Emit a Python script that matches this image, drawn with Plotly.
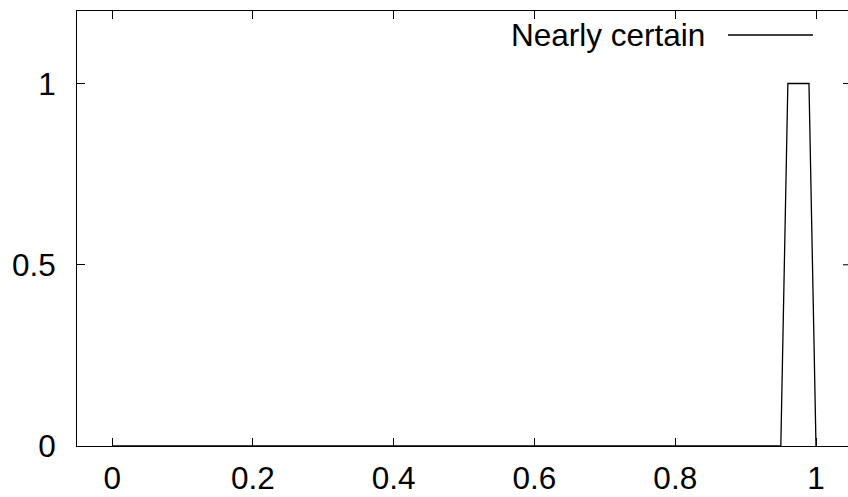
import plotly.graph_objects as go

# Data
series_name = "Nearly certain"
x_values = [0.0, 0.95, 0.96, 0.97, 0.98, 0.99, 1.0]
y_values = [0, 0, 1, 1, 1, 1, 0]
x_tickvals = [0, 0.2, 0.4, 0.6, 0.8, 1.0]
x_ticktext = ["0", "0.2", "0.4", "0.6", "0.8", "1"]
y_tickvals = [0, 0.5, 1.0]
y_ticktext = ["0", "0.5", "1"]

FONT = "Liberation Sans, Arial, sans-serif"
FS = 31.5

fig = go.Figure()
fig.add_trace(go.Scatter(
    x=x_values, y=y_values, mode="lines",
    line=dict(color="black", width=1.3),
    name=series_name, showlegend=False,
))

fig.update_layout(
    width=848, height=497,
    margin=dict(l=77, r=0, t=11, b=51),
    paper_bgcolor="white", plot_bgcolor="white",
    font=dict(family=FONT, size=FS, color="black"),
    showlegend=False,
)

fig.update_xaxes(
    range=[-0.05, 1.04545], tickvals=x_tickvals, ticktext=x_ticktext,
    showgrid=False, zeroline=False, automargin=False,
    showline=True, linecolor="black", linewidth=1, mirror="ticks",
    ticks="inside", ticklen=8, tickcolor="black", tickwidth=1,
    ticklabelstandoff=4,
)
fig.update_yaxes(
    range=[0, 1.2], tickvals=y_tickvals, ticktext=y_ticktext,
    showgrid=False, zeroline=False, automargin=False,
    showline=True, linecolor="black", linewidth=1, mirror=False,
    ticks="inside", ticklen=8, tickcolor="black", tickwidth=1,
    ticklabelstandoff=14,
)

# Mirrored y ticks at the (off-canvas) right border, only their stubs show
for yv in y_tickvals[1:]:
    fig.add_shape(
        type="line", xref="paper", yref="y",
        x0=0.9935, x1=1.0, y0=yv, y1=yv,
        line=dict(color="black", width=1),
    )

# Legend drawn gnuplot-style: text first, then line sample
fig.add_annotation(
    x=0.8171, y=0.9448, xref="paper", yref="paper",
    text=series_name, showarrow=False, xanchor="right", yanchor="middle",
    font=dict(family=FONT, size=FS, color="black"),
)
fig.add_shape(
    type="line", xref="paper", yref="paper",
    x0=0.8444, x1=0.9546, y0=0.9448, y1=0.9448,
    line=dict(color="black", width=1.3),
)

fig.write_html(
    "out.html",
    config={"displayModeBar": False},
    post_script="document.body.style.margin='0';document.body.style.overflow='hidden';",
)
